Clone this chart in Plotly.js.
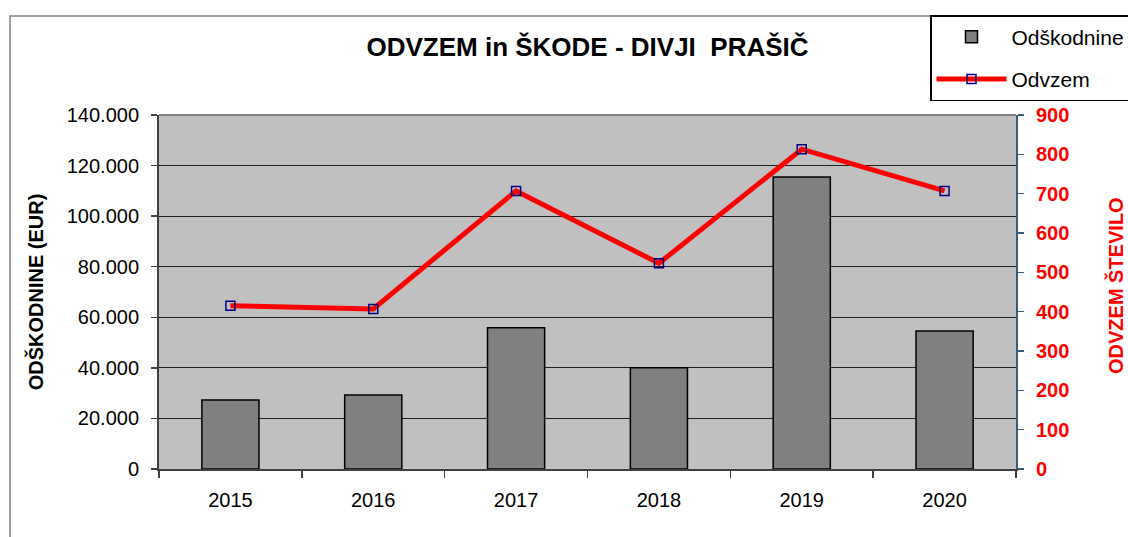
<!DOCTYPE html>
<html>
<head>
<meta charset="utf-8">
<script src="https://cdn.plot.ly/plotly-3.0.1.min.js"></script>
<style>html,body{margin:0;padding:0;background:#fff;}#chart{width:1128px;height:537px;}</style>
</head>
<body>
<div id="chart"></div>
<script>
const years = ['2015', '2016', '2017', '2018', '2019', '2020'];
const odskodnine = [27300, 29300, 55900, 40000, 115500, 54600];
const odvzem = [415, 407, 707, 523, 813, 707];
const leftTicks = [0, 20000, 40000, 60000, 80000, 100000, 120000, 140000];
const rightTicks = [0, 100, 200, 300, 400, 500, 600, 700, 800, 900];

const FONT = 'Liberation Sans, Arial, sans-serif';

const traces = [
  {
    type: 'bar', name: 'Odškodnine', x: years, y: odskodnine,
    width: 0.4, legendgroup: 'a',
    marker: {color: '#808080', line: {color: '#000000', width: 1.5}},
    yaxis: 'y'
  },
  {
    type: 'scatter', mode: 'lines+markers', name: 'Odvzem', x: years, y: odvzem,
    legendgroup: 'b',
    line: {color: '#FF0000', width: 5},
    marker: {symbol: 'square-open', size: 9, color: '#000080', line: {color: '#000080', width: 1.5}},
    yaxis: 'y2'
  }
];

const layout = {
  width: 1128, height: 537,
  margin: {l: 159, r: 112, t: 115, b: 68, pad: 0, autoexpand: false},
  paper_bgcolor: '#FFFFFF',
  plot_bgcolor: '#C0C0C0',
  separators: ',.',
  font: {family: FONT, color: '#000000', size: 20},
  title: {
    text: '<b>ODVZEM in ŠKODE - DIVJI  PRAŠIČ</b>',
    font: {family: FONT, size: 26, color: '#000000'},
    x: 579, xref: 'paper', xanchor: 'center', y: 1 - 47/537, yref: 'container', yanchor: 'middle'
  },
  showlegend: true,
  legend: {
    xref: 'container', yref: 'container',
    x: 930 / 1128, xanchor: 'left',
    y: 1 - 15 / 537, yanchor: 'top',
    bgcolor: '#FFFFFF', bordercolor: '#000000', borderwidth: 1.5,
    font: {family: FONT, size: 21, color: '#000000'},
    traceorder: 'grouped', tracegroupgap: 12,
    itemwidth: 70
  },
  xaxis: {
    type: 'category',
    tickson: 'boundaries', ticks: 'outside', ticklen: 7, tickcolor: '#404040', tickwidth: 1.5,
    showline: true, linecolor: '#404040', linewidth: 2,
    showgrid: false, zeroline: false,
    tickfont: {family: FONT, size: 20, color: '#000000'},
    ticklabelstandoff: 12
  },
  yaxis: {
    range: [0, 140000], tickvals: leftTicks, tickformat: ',d',
    ticks: 'outside', ticklen: 6, tickcolor: '#404040', tickwidth: 1.5,
    showline: true, linecolor: '#404040', linewidth: 2,
    showgrid: true, gridcolor: '#202020', gridwidth: 1.2,
    zeroline: false,
    tickfont: {family: FONT, size: 20, color: '#000000'},
    ticklabelstandoff: 8,
    title: {text: '<b>ODŠKODNINE (EUR)</b>', font: {family: FONT, size: 20, color: '#000000'}, standoff: 18}
  },
  yaxis2: {
    overlaying: 'y', side: 'right',
    range: [0, 900], tickvals: rightTicks,
    ticks: 'outside', ticklen: 6, tickcolor: '#3A5A80', tickwidth: 1.5,
    showline: true, linecolor: '#3A5A80', linewidth: 2,
    showgrid: false, zeroline: false,
    tickfont: {family: FONT, size: 20, color: '#FF0000', weight: 'bold'},
    ticklabelstandoff: 8
  },
  annotations: [
    {text: '<b>ODVZEM ŠTEVILO</b>', xref: 'paper', yref: 'paper',
     x: (1115 - 159) / 857, y: (469 - 286) / 354, xanchor: 'center', yanchor: 'middle',
     textangle: -90, showarrow: false,
     font: {family: FONT, size: 20, color: '#FF0000'}}
  ],
  shapes: [
    {type: 'rect', xref: 'paper', yref: 'paper',
     x0: (10 - 159) / 857, x1: 1.4, y0: -0.5, y1: (469 - 16) / 354,
     line: {color: '#808080', width: 1.5}, fillcolor: 'rgba(0,0,0,0)', layer: 'below'},
    {type: 'line', xref: 'paper', yref: 'paper', x0: 0, x1: 1, y0: 1, y1: 1,
     line: {color: '#808080', width: 2}}
  ]
};

Plotly.newPlot('chart', traces, layout, {displayModeBar: false, staticPlot: true});
</script>
</body>
</html>
